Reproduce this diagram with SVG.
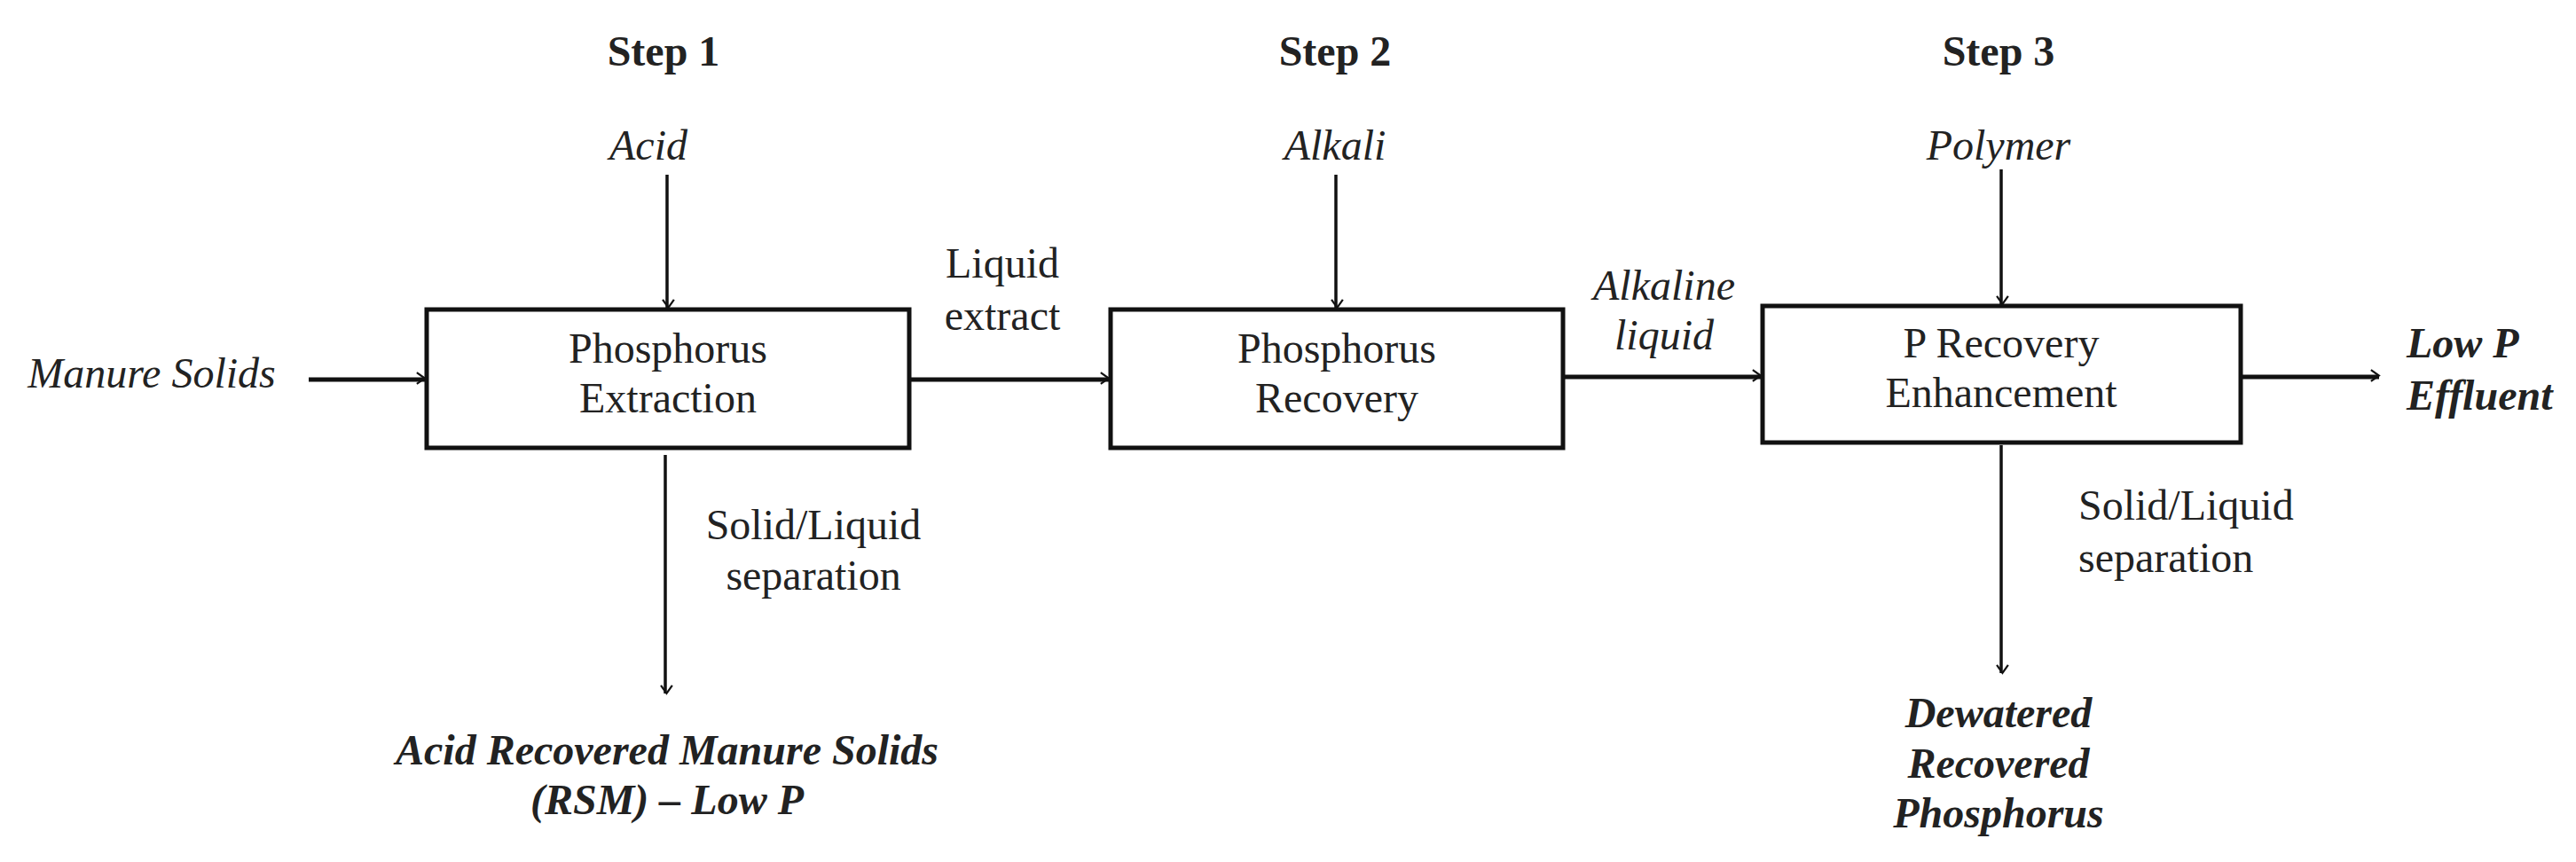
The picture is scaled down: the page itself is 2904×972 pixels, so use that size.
<svg xmlns="http://www.w3.org/2000/svg" width="2904" height="972" viewBox="0 0 2904 972">
<style>
text{font-family:"Liberation Serif",serif;font-size:48px;fill:#222;text-anchor:middle}
.b{font-weight:bold}.i{font-style:italic}.bi{font-weight:bold;font-style:italic}
.box{fill:#fff;stroke:#111;stroke-width:5}
.c line{stroke:#111;stroke-width:3.5;marker-end:url(#ah)}
.c line.t{stroke-width:5}
</style>
<defs>
<marker id="ah" viewBox="0 0 20 20" refX="18" refY="10" markerWidth="8" markerHeight="8" markerUnits="userSpaceOnUse" orient="auto" overflow="visible">
<path d="M4,0 L18,10 L4,20" fill="none" stroke="#111" stroke-width="3.5" transform="scale(1.6) translate(-7,-6)"/>
</marker>
</defs>
<g id="steps">
<text class="b" x="748" y="74">Step 1</text>
<text class="b" x="1505" y="74">Step 2</text>
<text class="b" x="2253" y="74">Step 3</text>
</g>
<g id="inputs">
<text class="i" x="731" y="180">Acid</text>
<text class="i" x="1505" y="180">Alkali</text>
<text class="i" x="2253" y="180">Polymer</text>
<text class="i" x="171" y="437">Manure Solids</text>
</g>
<g id="extraction"><rect class="box" x="481" y="349" width="544" height="156"/>
<text x="753" y="409">Phosphorus</text><text x="753" y="465">Extraction</text></g>
<g id="recovery"><rect class="box" x="1252" y="349" width="510" height="156"/>
<text x="1507" y="409">Phosphorus</text><text x="1507" y="465">Recovery</text></g>
<g id="enhancement"><rect class="box" x="1987" y="345" width="539" height="154"/>
<text x="2256" y="403">P Recovery</text><text x="2256" y="459">Enhancement</text></g>
<g class="c" id="connectors">
<line x1="752" y1="197" x2="752" y2="347"/>
<line x1="1506" y1="197" x2="1506" y2="347"/>
<line x1="2256" y1="191" x2="2256" y2="343"/>
<line class="t" x1="348" y1="428" x2="479" y2="428"/>
<line class="t" x1="1027" y1="428" x2="1250" y2="428"/>
<line class="t" x1="1764" y1="425" x2="1985" y2="425"/>
<line class="t" x1="2528" y1="425" x2="2682" y2="425"/>
<line x1="750" y1="513" x2="750" y2="782"/>
<line x1="2256" y1="502" x2="2256" y2="759"/>
</g>
<g id="labels">
<text x="1130" y="313">Liquid</text><text x="1130" y="372">extract</text>
<text class="i" x="1876" y="338">Alkaline</text><text class="i" x="1876" y="394">liquid</text>
<text x="917" y="608">Solid/Liquid</text><text x="917" y="665">separation</text>
<text x="2343" y="586" style="text-anchor:start">Solid/Liquid</text><text x="2343" y="645" style="text-anchor:start">separation</text>
</g>
<g id="outputs">
<text class="bi" x="2713" y="403" style="text-anchor:start">Low P</text>
<text class="bi" x="2713" y="462" style="text-anchor:start">Effluent</text>
<text class="bi" x="752" y="862">Acid Recovered Manure Solids</text>
<text class="bi" x="752" y="918">(RSM) – Low P</text>
<text class="bi" x="2253" y="820">Dewatered</text>
<text class="bi" x="2253" y="877">Recovered</text>
<text class="bi" x="2253" y="933">Phosphorus</text>
</g>
</svg>
